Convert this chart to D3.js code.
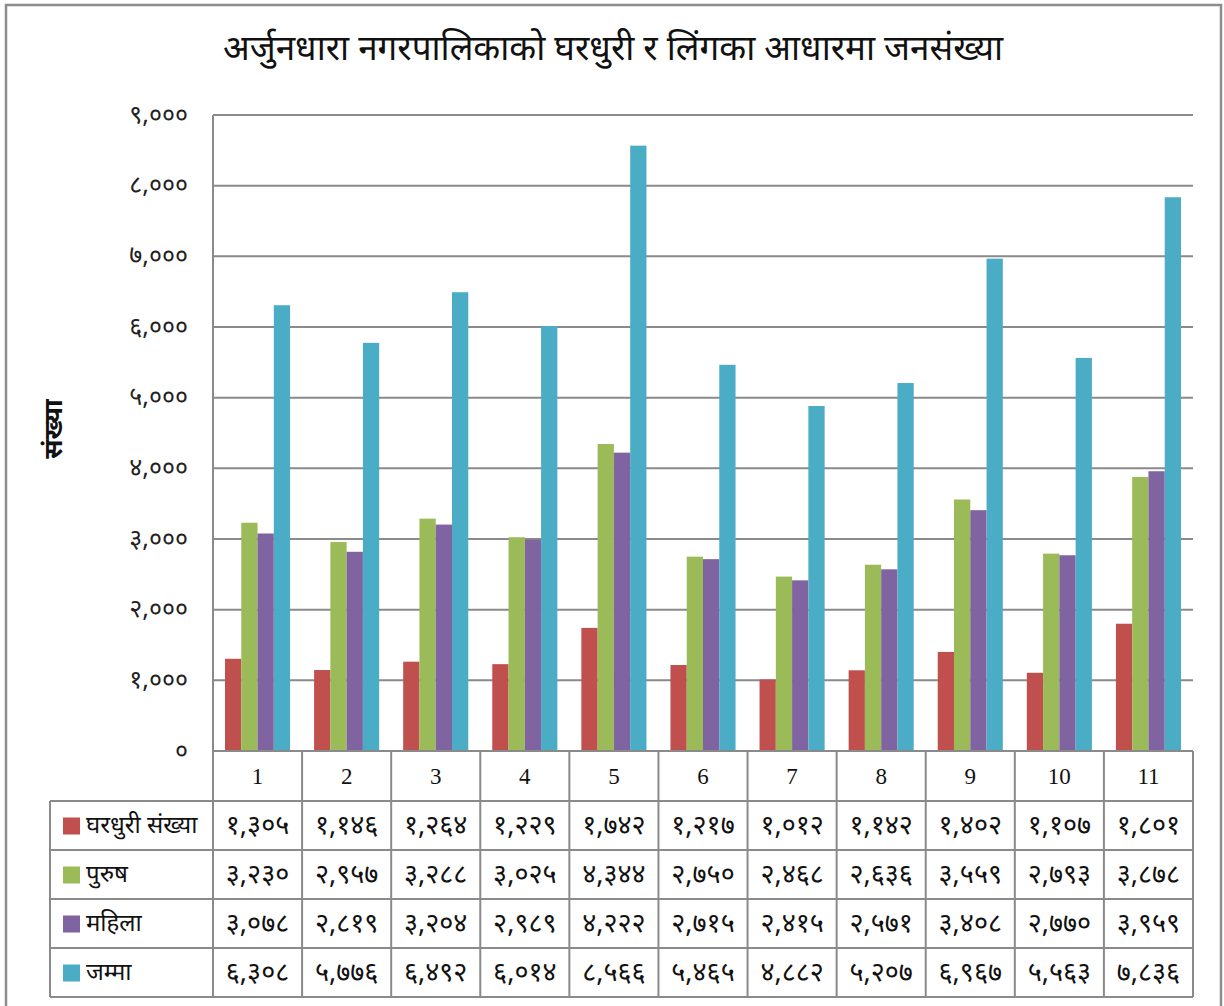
<!DOCTYPE html>
<html>
<head>
<meta charset="utf-8">
<script src="https://cdn.jsdelivr.net/npm/d3@7"></script>
<style>
body { margin: 0; background: #fff; }
svg { display: block; }
</style>
</head>
<body>
<div id="chart"></div>
<script>
// chart data
var title = "अर्जुनधारा नगरपालिकाको घरधुरी र लिंगका आधारमा जनसंख्या";
var yTitle = "संख्या";
var wards = ["1", "2", "3", "4", "5", "6", "7", "8", "9", "10", "11"];
var seriesNames = ["घरधुरी संख्या", "पुरुष", "महिला", "जम्मा"];
var seriesColors = ["#C0504D", "#9BBB59", "#8064A2", "#4BACC6"];
var households = [1305, 1146, 1264, 1229, 1742, 1217, 1012, 1142, 1402, 1107, 1801];
var male = [3230, 2957, 3288, 3025, 4344, 2750, 2468, 2636, 3559, 2793, 3878];
var female = [3078, 2819, 3204, 2989, 4222, 2715, 2415, 2571, 3408, 2770, 3959];
var total = [6308, 5776, 6492, 6014, 8566, 5465, 4882, 5207, 6967, 5563, 7836];
var yTicks = [0, 1000, 2000, 3000, 4000, 5000, 6000, 7000, 8000, 9000];

var seriesValues = [households, male, female, total];

var w = 1224
var h = 1006
var plotLeft = 213, plotRight = 1193, plotTop = 115, plotBottom = 751
var headerH = 50, rowH = 49, legendLeft = 50

var devDigits = "०१२३४५६७८९";
function toDev(n) {
    return d3.format(",")(n).replace(/[0-9]/g, function(d) { return devDigits[d]; });
}

var svg = d3.select("#chart")
    .append("svg")
    .attr("width", w)
    .attr("height", h)

// outer frame
svg.append("rect")
    .attr("x", 6).attr("y", 5)
    .attr("width", 1215).attr("height", 1010)
    .attr("fill", "none")
    .attr("stroke", "#8c8c8c")
    .attr("stroke-width", 2.5)

var x = d3.scaleBand()
    .domain(wards)
    .range([plotLeft, plotRight])

var x1 = d3.scaleBand()
    .domain(seriesNames)
    .range([12, x.bandwidth() - 12])

var y = d3.scaleLinear()
    .domain([0, 9000])
    .range([plotBottom, plotTop])

// grid lines
svg.append("g")
    .selectAll("line")
    .data(yTicks.filter(function(d) { return d > 0; }))
    .join("line")
    .attr("x1", plotLeft).attr("x2", plotRight)
    .attr("y1", function(d) { return y(d); })
    .attr("y2", function(d) { return y(d); })
    .attr("stroke", "#8a8a8a")
    .attr("stroke-width", 2)

// y tick labels
svg.append("g")
    .selectAll("text")
    .data(yTicks)
    .join("text")
    .attr("x", 188)
    .attr("y", function(d) { return y(d); })
    .attr("dy", "0.3em")
    .attr("text-anchor", "end")
    .attr("font-family", "'Noto Sans', sans-serif")
    .attr("font-size", 25)
    .attr("fill", "#222")
    .text(function(d) { return toDev(d); })

// bars
var groups = svg.append("g")
    .selectAll("g")
    .data(seriesNames)
    .join("g")
    .attr("fill", function(d, i) { return seriesColors[i]; })

groups.selectAll("rect")
    .data(function(s, i) {
        return seriesValues[i].map(function(v, j) { return { s: s, ward: wards[j], v: v }; });
    })
    .join("rect")
    .attr("x", function(d) { return x(d.ward) + x1(d.s); })
    .attr("width", x1.bandwidth())
    .attr("y", function(d) { return y(d.v); })
    .attr("height", function(d) { return y(0) - y(d.v); })

// data table
var tableBottom = plotBottom + headerH + rowH * seriesNames.length
var table = svg.append("g")
    .attr("stroke", "#8a8a8a")
    .attr("stroke-width", 2)

// vertical axis line + column lines
table.append("line")
    .attr("x1", plotLeft).attr("x2", plotLeft)
    .attr("y1", plotTop).attr("y2", tableBottom)
table.selectAll(".col")
    .data(wards)
    .join("line")
    .attr("class", "col")
    .attr("x1", function(d) { return x(d) + x.bandwidth(); })
    .attr("x2", function(d) { return x(d) + x.bandwidth(); })
    .attr("y1", plotBottom).attr("y2", tableBottom)
table.append("line")
    .attr("x1", legendLeft).attr("x2", legendLeft)
    .attr("y1", plotBottom + headerH).attr("y2", tableBottom)

// horizontal lines
table.append("line")
    .attr("x1", plotLeft).attr("x2", plotRight)
    .attr("y1", plotBottom).attr("y2", plotBottom)
table.selectAll(".row")
    .data(d3.range(seriesNames.length + 1))
    .join("line")
    .attr("class", "row")
    .attr("x1", legendLeft).attr("x2", plotRight)
    .attr("y1", function(i) { return plotBottom + headerH + i * rowH; })
    .attr("y2", function(i) { return plotBottom + headerH + i * rowH; })

// ward numbers
svg.append("g")
    .selectAll("text")
    .data(wards)
    .join("text")
    .attr("x", function(d) { return x(d) + x.bandwidth() / 2; })
    .attr("y", plotBottom + headerH / 2)
    .attr("dy", "0.35em")
    .attr("text-anchor", "middle")
    .attr("font-family", "'Liberation Serif', serif")
    .attr("font-size", 23)
    .attr("fill", "#111")
    .text(function(d) { return d; })

// legend keys + values
seriesNames.forEach(function(s, i) {
    var rowY = plotBottom + headerH + i * rowH + rowH / 2
    svg.append("rect")
        .attr("x", 63).attr("y", rowY - 8)
        .attr("width", 17).attr("height", 17)
        .attr("fill", seriesColors[i])
    svg.append("text")
        .attr("x", 86).attr("y", rowY)
        .attr("dy", "0.3em")
        .attr("font-family", "'Noto Sans', sans-serif")
        .attr("font-size", 24)
        .attr("fill", "#111")
        .text(s)
    svg.append("g")
        .selectAll("text")
        .data(seriesValues[i])
        .join("text")
        .attr("x", function(d, j) { return x(wards[j]) + x.bandwidth() / 2; })
        .attr("y", rowY)
        .attr("dy", "0.3em")
        .attr("text-anchor", "middle")
        .attr("font-family", "'Noto Sans', sans-serif")
        .attr("font-size", 27)
        .attr("fill", "#111")
        .text(function(d) { return toDev(d); })
})

// titles
svg.append("text")
    .attr("x", 613).attr("y", 48)
    .attr("dy", "0.35em")
    .attr("text-anchor", "middle")
    .attr("font-family", "'Noto Sans', sans-serif")
    .attr("font-size", 35)
    .attr("fill", "#111")
    .text(title)

svg.append("text")
    .attr("transform", "translate(53,429) rotate(-90)")
    .attr("dy", "0.35em")
    .attr("text-anchor", "middle")
    .attr("font-family", "'Noto Sans', sans-serif")
    .attr("font-weight", "bold")
    .attr("font-size", 26)
    .attr("fill", "#111")
    .text(yTitle)
</script>
</body>
</html>
